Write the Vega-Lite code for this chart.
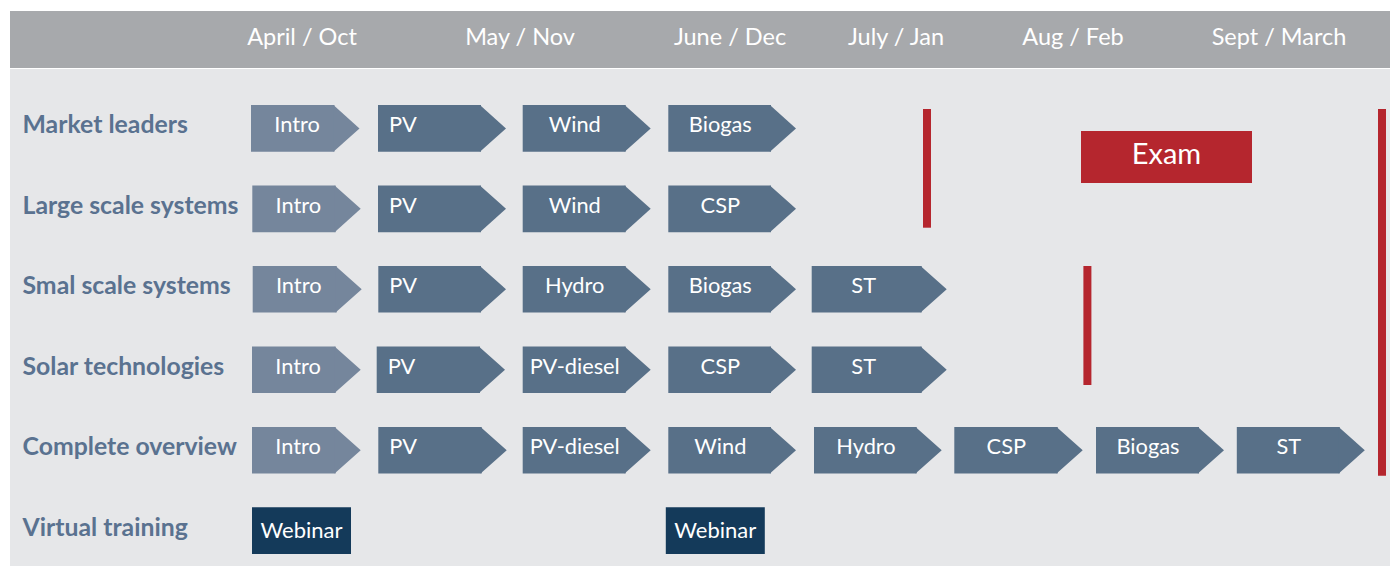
{
  "$schema": "https://vega.github.io/schema/vega-lite/v6.json",
  "background": "white",
  "padding": {"left": 10, "top": 11, "right": 0, "bottom": 0},
  "spacing": 1,
  "bounds": "flush",
  "config": {
    "view": {"stroke": null},
    "axis": {"disable": true},
    "legend": {"disable": true},
    "font": "Lato"
  },
  "datasets": {
    "months": [
      {"month": "April / Oct", "mid": 29.2},
      {"month": "May / Nov", "mid": 51.0},
      {"month": "June / Dec", "mid": 72.0},
      {"month": "July / Jan", "mid": 88.6},
      {"month": "Aug / Feb", "mid": 106.3},
      {"month": "Sept / March", "mid": 126.9}
    ],
    "rows": [
      {"row": "Market leaders"},
      {"row": "Large scale systems"},
      {"row": "Smal scale systems"},
      {"row": "Solar technologies"},
      {"row": "Complete overview"},
      {"row": "Virtual training"}
    ],
    "modules": [
      {"row": "Market leaders", "label": "Intro", "kind": "intro", "start": 24.1, "end": 34.95},
      {"row": "Market leaders", "label": "PV", "kind": "topic", "start": 36.8, "end": 49.6},
      {"row": "Market leaders", "label": "Wind", "kind": "topic", "start": 51.27, "end": 64.07},
      {"row": "Market leaders", "label": "Biogas", "kind": "topic", "start": 65.83, "end": 78.6},
      {"row": "Large scale systems", "label": "Intro", "kind": "intro", "start": 24.23, "end": 35.07},
      {"row": "Large scale systems", "label": "PV", "kind": "topic", "start": 36.8, "end": 49.6},
      {"row": "Large scale systems", "label": "Wind", "kind": "topic", "start": 51.27, "end": 64.07},
      {"row": "Large scale systems", "label": "CSP", "kind": "topic", "start": 65.83, "end": 78.6},
      {"row": "Smal scale systems", "label": "Intro", "kind": "intro", "start": 24.27, "end": 35.17},
      {"row": "Smal scale systems", "label": "PV", "kind": "topic", "start": 36.83, "end": 49.6},
      {"row": "Smal scale systems", "label": "Hydro", "kind": "topic", "start": 51.27, "end": 64.07},
      {"row": "Smal scale systems", "label": "Biogas", "kind": "topic", "start": 65.83, "end": 78.6},
      {"row": "Smal scale systems", "label": "ST", "kind": "topic", "start": 80.17, "end": 93.67},
      {"row": "Solar technologies", "label": "Intro", "kind": "intro", "start": 24.2, "end": 35.07},
      {"row": "Solar technologies", "label": "PV", "kind": "topic", "start": 36.67, "end": 49.5},
      {"row": "Solar technologies", "label": "PV-diesel", "kind": "topic", "start": 51.27, "end": 64.07},
      {"row": "Solar technologies", "label": "CSP", "kind": "topic", "start": 65.83, "end": 78.6},
      {"row": "Solar technologies", "label": "ST", "kind": "topic", "start": 80.17, "end": 93.67},
      {"row": "Complete overview", "label": "Intro", "kind": "intro", "start": 24.2, "end": 35.07},
      {"row": "Complete overview", "label": "PV", "kind": "topic", "start": 36.83, "end": 49.67},
      {"row": "Complete overview", "label": "PV-diesel", "kind": "topic", "start": 51.27, "end": 64.07},
      {"row": "Complete overview", "label": "Wind", "kind": "topic", "start": 65.83, "end": 78.6},
      {"row": "Complete overview", "label": "Hydro", "kind": "topic", "start": 80.4, "end": 93.17},
      {"row": "Complete overview", "label": "CSP", "kind": "topic", "start": 94.43, "end": 107.27},
      {"row": "Complete overview", "label": "Biogas", "kind": "topic", "start": 108.6, "end": 121.4},
      {"row": "Complete overview", "label": "ST", "kind": "topic", "start": 122.68, "end": 135.48}
    ],
    "webinars": [
      {"row": "Virtual training", "label": "Webinar", "start": 24.2, "end": 34.1},
      {"row": "Virtual training", "label": "Webinar", "start": 65.58, "end": 75.48}
    ],
    "deadlines": [
      {"bar": "A", "row": "Market leaders", "row2": "Large scale systems", "at": 91.7},
      {"bar": "B", "row": "Smal scale systems", "row2": "Solar technologies", "at": 107.74},
      {"bar": "C", "row": "Market leaders", "row2": "Complete overview", "at": 137.2}
    ],
    "exam": [
      {"row": "Market leaders", "label": "Exam", "start": 107.1, "end": 124.2}
    ]
  },
  "vconcat": [
    {
      "width": 1380,
      "height": 57,
      "view": {"fill": "#a7a9ac", "stroke": null},
      "data": {"name": "months"},
      "mark": {"type": "text", "font": "Lato", "fontSize": 23.5, "fill": "#ffffff", "align": "center", "baseline": "alphabetic", "dy": 5.5},
      "encoding": {
        "x": {"field": "mid", "type": "quantitative", "scale": {"domain": [0, 138], "nice": false, "zero": false}, "axis": null},
        "text": {"field": "month"}
      }
    },
    {
      "width": 1380,
      "height": 497,
      "view": {"fill": "#e6e7e9", "stroke": null},
      "encoding": {
        "y": {
          "field": "row",
          "type": "nominal",
          "axis": null,
          "scale": {
            "domain": ["Market leaders", "Large scale systems", "Smal scale systems", "Solar technologies", "Complete overview", "Virtual training"],
            "range": [0, 521.06],
            "paddingInner": 0.4208,
            "paddingOuter": 0.4488
          }
        }
      },
      "layer": [
        {
          "data": {"name": "modules"},
          "mark": {"type": "rect", "x2Offset": -25},
          "encoding": {
            "x": {"field": "start", "type": "quantitative", "scale": {"domain": [0, 138], "nice": false, "zero": false}, "axis": null},
            "x2": {"field": "end"},
            "color": {"field": "kind", "type": "nominal", "scale": {"domain": ["intro", "topic"], "range": ["#75869c", "#587088"]}, "legend": null}
          }
        },
        {
          "data": {"name": "modules"},
          "mark": {"type": "point", "shape": "M-1.12,-1L0,0L-1.12,1Z", "size": 2172, "filled": true, "opacity": 1, "strokeWidth": 0},
          "encoding": {
            "x": {"field": "end", "type": "quantitative", "scale": {"domain": [0, 138], "nice": false, "zero": false}, "axis": null},
            "color": {"field": "kind", "type": "nominal", "legend": null}
          }
        },
        {
          "data": {"name": "modules"},
          "transform": [{"filter": "datum.kind === 'intro'"}],
          "mark": {"type": "text", "font": "Lato", "fontSize": 21.8, "fill": "#ffffff", "align": "center", "baseline": "alphabetic", "dx": 46, "dy": 4},
          "encoding": {
            "x": {"field": "start", "type": "quantitative", "scale": {"domain": [0, 138], "nice": false, "zero": false}, "axis": null},
            "text": {"field": "label"}
          }
        },
        {
          "data": {"name": "modules"},
          "transform": [{"filter": "datum.label === 'PV'"}],
          "mark": {"type": "text", "font": "Lato", "fontSize": 21.8, "fill": "#ffffff", "align": "left", "baseline": "alphabetic", "dx": 11, "dy": 4},
          "encoding": {
            "x": {"field": "start", "type": "quantitative", "scale": {"domain": [0, 138], "nice": false, "zero": false}, "axis": null},
            "text": {"field": "label"}
          }
        },
        {
          "data": {"name": "modules"},
          "transform": [{"filter": "datum.kind === 'topic' && datum.label !== 'PV'"}],
          "mark": {"type": "text", "font": "Lato", "fontSize": 21.8, "fill": "#ffffff", "align": "center", "baseline": "alphabetic", "dx": 52, "dy": 4},
          "encoding": {
            "x": {"field": "start", "type": "quantitative", "scale": {"domain": [0, 138], "nice": false, "zero": false}, "axis": null},
            "text": {"field": "label"}
          }
        },
        {
          "data": {"name": "webinars"},
          "mark": {"type": "rect", "fill": "#143a5a"},
          "encoding": {
            "x": {"field": "start", "type": "quantitative", "scale": {"domain": [0, 138], "nice": false, "zero": false}, "axis": null},
            "x2": {"field": "end"}
          }
        },
        {
          "data": {"name": "webinars"},
          "mark": {"type": "text", "font": "Lato", "fontSize": 22, "fill": "#ffffff", "align": "center", "baseline": "alphabetic", "dx": 49.5, "dy": 7},
          "encoding": {
            "x": {"field": "start", "type": "quantitative", "scale": {"domain": [0, 138], "nice": false, "zero": false}, "axis": null},
            "text": {"field": "label"}
          }
        },
        {
          "data": {"name": "rows"},
          "mark": {"type": "text", "font": "Lato", "fontWeight": "bold", "fontSize": 24.8, "fill": "#5a7290", "align": "left", "baseline": "alphabetic", "dy": 5},
          "encoding": {
            "x": {"datum": 1.25, "type": "quantitative", "scale": {"domain": [0, 138], "nice": false, "zero": false}},
            "text": {"field": "row"}
          }
        },
        {
          "data": {"name": "deadlines"},
          "transform": [{"filter": "datum.bar === 'A'"}],
          "mark": {"type": "rule", "stroke": "#b5262e", "strokeWidth": 8, "strokeCap": "butt", "yOffset": -19.4, "y2Offset": 18.85},
          "encoding": {
            "x": {"field": "at", "type": "quantitative", "scale": {"domain": [0, 138], "nice": false, "zero": false}, "axis": null},
            "y2": {"field": "row2"}
          }
        },
        {
          "data": {"name": "deadlines"},
          "transform": [{"filter": "datum.bar === 'B'"}],
          "mark": {"type": "rule", "stroke": "#b5262e", "strokeWidth": 8, "strokeCap": "butt", "yOffset": -23.3, "y2Offset": 15.25},
          "encoding": {
            "x": {"field": "at", "type": "quantitative", "scale": {"domain": [0, 138], "nice": false, "zero": false}, "axis": null},
            "y2": {"field": "row2"}
          }
        },
        {
          "data": {"name": "deadlines"},
          "transform": [{"filter": "datum.bar === 'C'"}],
          "mark": {"type": "rule", "stroke": "#b5262e", "strokeWidth": 8, "strokeCap": "butt", "yOffset": -19.4, "y2Offset": 25.5},
          "encoding": {
            "x": {"field": "at", "type": "quantitative", "scale": {"domain": [0, 138], "nice": false, "zero": false}, "axis": null},
            "y2": {"field": "row2"}
          }
        },
        {
          "data": {"name": "exam"},
          "mark": {"type": "rule", "stroke": "#b5262e", "strokeWidth": 52, "strokeCap": "butt", "yOffset": 28.6},
          "encoding": {
            "x": {"field": "start", "type": "quantitative", "scale": {"domain": [0, 138], "nice": false, "zero": false}, "axis": null},
            "x2": {"field": "end"}
          }
        },
        {
          "data": {"name": "exam"},
          "mark": {"type": "text", "font": "Lato", "fontSize": 29, "fill": "#ffffff", "align": "center", "baseline": "alphabetic", "dx": 85.5, "dy": 35.6},
          "encoding": {
            "x": {"field": "start", "type": "quantitative", "scale": {"domain": [0, 138], "nice": false, "zero": false}, "axis": null},
            "text": {"field": "label"}
          }
        }
      ]
    }
  ]
}
